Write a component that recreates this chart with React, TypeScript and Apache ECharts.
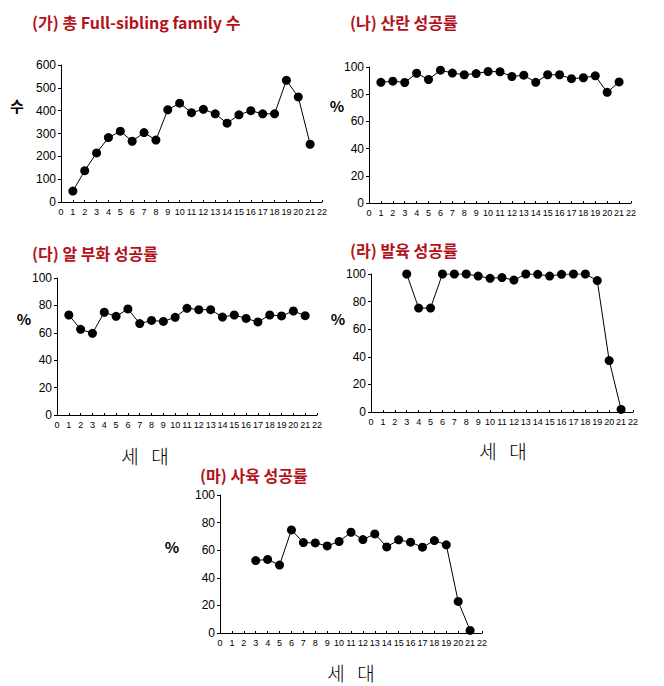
import React, { useEffect, useRef } from "react";
import * as echarts from "echarts";

const generations = [1, 2, 3, 4, 5, 6, 7, 8, 9, 10, 11, 12, 13, 14, 15, 16, 17, 18, 19, 20, 21];
const xTicks = [0, 1, 2, 3, 4, 5, 6, 7, 8, 9, 10, 11, 12, 13, 14, 15, 16, 17, 18, 19, 20, 21, 22];

const familyCount = [48, 137, 215, 282, 310, 266, 304, 271, 404, 433, 391, 406, 386, 345, 382, 400, 386, 386, 533, 460, 253];
const spawnRate = [88.7, 89.6, 88.6, 95.4, 90.8, 97.7, 95.5, 94.3, 95.2, 96.7, 96.5, 93.0, 94.0, 88.7, 94.3, 94.3, 91.4, 92.1, 93.5, 81.4, 89.0];
const hatchRate = [73.0, 62.5, 59.6, 75.0, 72.0, 77.4, 66.7, 69.0, 68.3, 71.3, 77.9, 76.9, 76.9, 71.5, 73.0, 70.5, 67.9, 73.0, 72.3, 75.9, 72.5];
const devRate = [null, null, 100, 75.3, 75.3, 100, 100, 100, 98.5, 96.9, 97.4, 95.6, 100, 99.8, 98.5, 99.8, 100, 100, 95.2, 37.3, 1.9];
const rearRate = [null, null, 52.5, 53.3, 49.2, 74.7, 65.5, 65.3, 63.1, 66.3, 73.0, 67.7, 71.8, 62.4, 67.5, 65.8, 62.2, 67.0, 63.9, 22.9, 1.9];

const titles = ["(가) 총 Full-sibling family 수", "(나) 산란 성공률", "(다) 알 부화 성공률", "(라) 발육 성공률", "(마) 사육 성공률"];
const yMaxes = [600, 100, 100, 100, 100];
const yIntervals = [100, 20, 20, 20, 20];
const yNames = ["수", "%", "%", "%", "%"];
const xName = "세   대";

const seriesValues = [familyCount, spawnRate, hatchRate, devRate, rearRate];

const grids = [
  { left: 61, top: 65, width: 261, height: 137 },
  { left: 369, top: 67, width: 262, height: 136 },
  { left: 57, top: 278, width: 260, height: 137 },
  { left: 371, top: 274, width: 262, height: 138 },
  { left: 220, top: 495, width: 262, height: 138 },
];
const titlePos = [
  { x: 32, y: 22 },
  { x: 350, y: 22 },
  { x: 32, y: 253 },
  { x: 350, y: 250 },
  { x: 200, y: 475 },
];
const yNamePos = [
  { x: 17, y: 105 },
  { x: 337, y: 105 },
  { x: 24, y: 318 },
  { x: 338, y: 318 },
  { x: 172, y: 546 },
];
const xNamePos = [null, null, { x: 145, y: 455 }, { x: 503, y: 450 }, { x: 351, y: 672 }];

const RED = "#b3121b";
const FONT = "'Liberation Sans', Arial, sans-serif";
const KFONT = "'Noto Sans CJK KR', sans-serif";

export default function App() {
  const ref = useRef<HTMLDivElement>(null);
  useEffect(() => {
    if (!ref.current) return;
    const chart = echarts.init(ref.current, null, { renderer: "svg" });
    const xAxes = grids.map((_, i) => ({
      type: "value",
      gridIndex: i,
      min: 0,
      max: 22,
      interval: 1,
      splitLine: { show: false },
      axisLine: { lineStyle: { color: "#000", width: 1 } },
      axisTick: { show: true, inside: true, length: 2, lineStyle: { color: "#000" } },
      axisLabel: {
        color: "#000",
        fontSize: 9,
        fontFamily: FONT,
        margin: 5,
        formatter: (v: number) => (xTicks.includes(v) ? String(v) : ""),
      },
    }));
    const yAxes = grids.map((_, i) => ({
      type: "value",
      gridIndex: i,
      min: 0,
      max: yMaxes[i],
      interval: yIntervals[i],
      splitLine: { show: false },
      axisLine: { show: true, lineStyle: { color: "#000", width: 1 } },
      axisTick: { show: true, length: 3, lineStyle: { color: "#000" } },
      axisLabel: { color: "#000", fontSize: 12, fontFamily: FONT, margin: 5 },
    }));
    const series = seriesValues.map((vals, i) => ({
      type: "line",
      xAxisIndex: i,
      yAxisIndex: i,
      data: generations
        .map((g, k) => [g, vals[k]])
        .filter((p) => p[1] !== null && p[1] !== undefined),
      symbol: "circle",
      symbolSize: 9,
      itemStyle: { color: "#000" },
      lineStyle: { color: "#000", width: 1 },
      z: 3,
    }));
    const graphics: any[] = [];
    titles.forEach((t, i) => {
      graphics.push({
        type: "text",
        x: titlePos[i].x,
        y: titlePos[i].y,
        style: {
          text: t,
          fill: RED,
          font: `bold 16px ${KFONT}`,
          textVerticalAlign: "middle",
        },
      });
      graphics.push({
        type: "text",
        x: yNamePos[i].x,
        y: yNamePos[i].y,
        style: {
          text: yNames[i],
          fill: "#000",
          font: `bold 15px ${KFONT}`,
          textAlign: "center",
          textVerticalAlign: "middle",
        },
      });
      const xp = xNamePos[i];
      if (xp) {
        graphics.push({
          type: "text",
          x: xp.x,
          y: xp.y,
          style: {
            text: xName,
            fill: "#000",
            font: `300 19px ${KFONT}`,
            textAlign: "center",
            textVerticalAlign: "middle",
          },
        });
      }
    });
    chart.setOption({
      animation: false,
      backgroundColor: "#fff",
      grid: grids.map((g) => ({ ...g, containLabel: false })),
      xAxis: xAxes,
      yAxis: yAxes,
      series,
      graphic: graphics,
    });
    return () => chart.dispose();
  }, []);
  return (
    <div
      ref={ref}
      style={{ position: "absolute", left: 0, top: 0, width: 664, height: 686 }}
    />
  );
}
